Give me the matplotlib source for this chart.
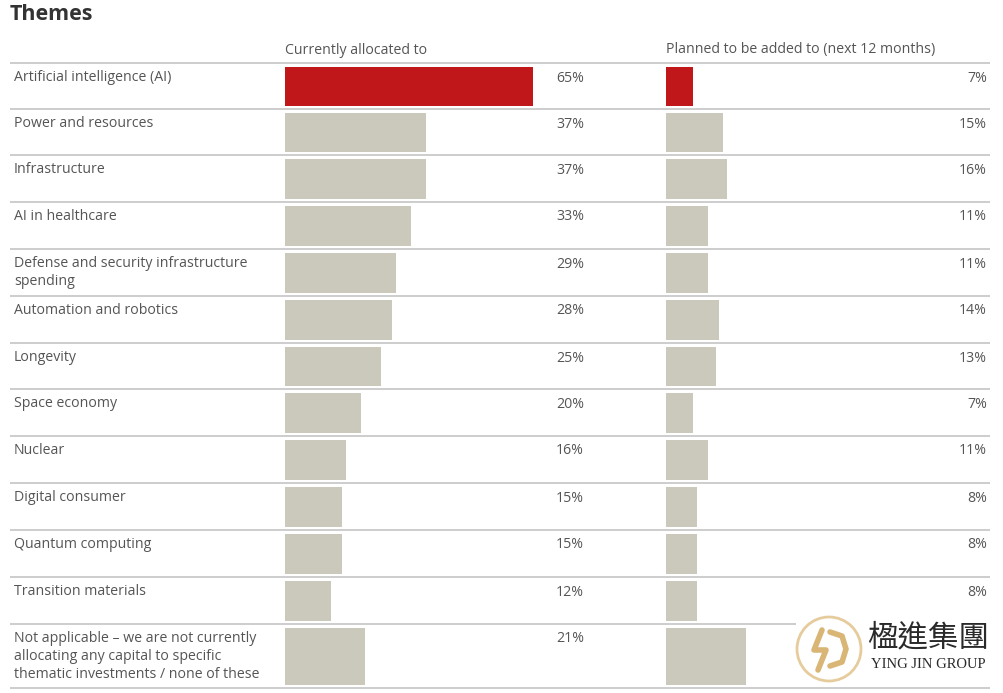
import matplotlib

matplotlib.use("Agg")
import matplotlib.pyplot as plt
from matplotlib.patches import Circle, Rectangle

plt.rcParams["font.family"] = ["Open Sans", "DejaVu Sans"]

W, H = 1004, 693

themes = [
    "Artificial intelligence (AI)",
    "Power and resources",
    "Infrastructure",
    "AI in healthcare",
    "Defense and security infrastructure\nspending",
    "Automation and robotics",
    "Longevity",
    "Space economy",
    "Nuclear",
    "Digital consumer",
    "Quantum computing",
    "Transition materials",
    "Not applicable \u2013 we are not currently\nallocating any capital to specific\nthematic investments / none of these",
]
current = [65, 37, 37, 33, 29, 28, 25, 20, 16, 15, 15, 12, 21]
planned = [7, 15, 16, 11, 11, 14, 13, 7, 11, 8, 8, 8, 21]
show_planned_label = [True] * 12 + [False]  # last label is under the logo
highlight = [True] + [False] * 12

# row separators in pixel units (top of each row, plus the bottom rule)
row_edges = [63, 109, 155, 202, 249, 296, 343, 389, 436, 483, 530, 577, 624, 688]

RED = "#c0171b"
GREY = "#cbc8bc"
TEXT = "#555555"
RULE = "#c9c9c9"
GOLD = "#d9b576"
PX_PER_PCT = 3.82
FS = 10.2

fig = plt.figure(figsize=(W / 100, H / 100), dpi=100)
base = fig.add_axes([0, 0, 1, 1])
base.set_xlim(0, W)
base.set_ylim(H, 0)
base.axis("off")


def bar_axes(x0):
    ax = fig.add_axes([x0 / W, 0, 100 * PX_PER_PCT / W, 1])
    ax.set_xlim(0, 100)
    ax.set_ylim(H, 0)
    ax.axis("off")
    return ax


ax_cur = bar_axes(285)
ax_plan = bar_axes(666)

tops = row_edges[:-1]
bottoms = row_edges[1:]
centers = [(t + b + 1) / 2 for t, b in zip(tops, bottoms)]
heights = [b - t - 7 for t, b in zip(tops, bottoms)]
colors = [RED if h else GREY for h in highlight]

ax_cur.barh(centers, current, height=heights, color=colors, align="center")
ax_plan.barh(centers, planned, height=heights, color=colors, align="center")

for y in row_edges:
    base.plot([10, 990], [y, y], color=RULE, lw=1.3, solid_capstyle="butt")

base.text(10, 15, "Themes", fontsize=15.5, fontweight="bold", color="#333333",
          ha="left", va="center")
base.text(285, 50, "Currently allocated to", fontsize=FS, color=TEXT,
          ha="left", va="center")
base.text(666, 50, "Planned to be added to (next 12 months)", fontsize=FS,
          color=TEXT, ha="left", va="center")

for i, t in enumerate(tops):
    base.text(14, t + 7, themes[i], fontsize=FS, color=TEXT, ha="left",
              va="top", linespacing=1.25)
    base.text(584, t + 15, f"{current[i]}%", fontsize=FS, color=TEXT,
              ha="right", va="center")
    if show_planned_label[i]:
        base.text(987, t + 15, f"{planned[i]}%", fontsize=FS, color=TEXT,
                  ha="right", va="center")

# watermark logo
base.add_patch(Rectangle((796, 617), 208, 68, facecolor="white",
                         edgecolor="none", zorder=5))
base.add_patch(Circle((829, 649), 32, facecolor="white", edgecolor="#e6cc9c",
                      lw=2, zorder=6))
base.plot([822, 814, 826, 818], [630, 650, 650, 670], color=GOLD, lw=4,
          zorder=7, solid_capstyle="round")
base.plot([830, 842, 846, 842, 830], [632, 636, 649, 662, 666], color=GOLD,
          lw=4, zorder=7, solid_capstyle="round", solid_joinstyle="round")
base.text(928, 638, "楹進集團", fontsize=22, color="#2a2a2a", ha="center",
          va="center", zorder=7, family=["Noto Sans CJK TC", "DejaVu Sans"])
base.text(928, 665, "YING JIN GROUP", fontsize=10.5, color="#2a2a2a",
          ha="center", va="center", zorder=7, family="Liberation Serif")

fig.savefig("out.png", dpi=100, facecolor="white")
